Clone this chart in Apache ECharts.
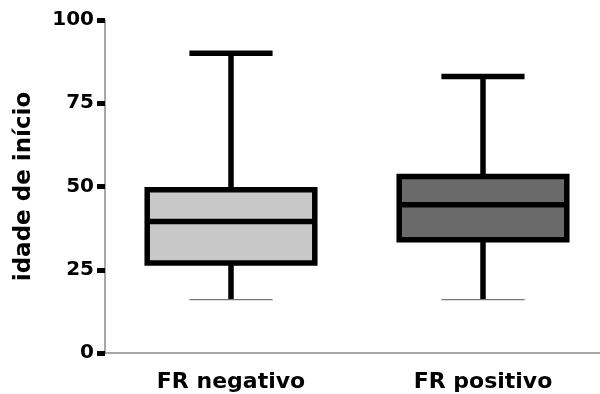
<!DOCTYPE html>
<html>
<head>
<meta charset="utf-8">
<script src="https://cdn.jsdelivr.net/npm/echarts@6/dist/echarts.min.js"></script>
<style>html,body{margin:0;padding:0;background:#fff}#c{width:600px;height:394px}</style>
</head>
<body>
<div id="c"></div>
<script>
var categories = ['FR negativo', 'FR positivo'];
var whiskerLow = [16, 16];
var quartile1 = [27, 34];
var medians = [39.5, 44.5];
var quartile3 = [49, 53];
var whiskerHigh = [90, 83];
var boxFills = ['#c8c8c8', '#6a6a6a'];
var yTicks = [0, 25, 50, 75, 100];
var yTitle = 'idade de início';

var data = categories.map(function (c, i) {
  return [i, whiskerLow[i], quartile1[i], medians[i], quartile3[i], whiskerHigh[i]];
});

var FONT = '"DejaVu Sans", sans-serif';

function renderItem(params, api) {
  var idx = api.value(0);
  var band = api.size([1, 0])[0];
  var bw = band * 0.665;
  var cw = band * 0.33;
  var pMin = api.coord([idx, api.value(1)]);
  var pQ1 = api.coord([idx, api.value(2)]);
  var pMed = api.coord([idx, api.value(3)]);
  var pQ3 = api.coord([idx, api.value(4)]);
  var pMax = api.coord([idx, api.value(5)]);
  var cx = pMed[0];
  var thick = { stroke: '#000', lineWidth: 5.5 };
  return {
    type: 'group',
    children: [
      { type: 'line', shape: { x1: cx, y1: pMax[1], x2: cx, y2: pQ3[1] }, style: thick },
      { type: 'line', shape: { x1: cx, y1: pQ1[1], x2: cx, y2: pMin[1] }, style: thick },
      { type: 'line', shape: { x1: cx - cw / 2, y1: pMax[1], x2: cx + cw / 2, y2: pMax[1] }, style: thick },
      { type: 'line', shape: { x1: cx - cw / 2, y1: pMin[1], x2: cx + cw / 2, y2: pMin[1] }, style: { stroke: '#777', lineWidth: 1.2 } },
      { type: 'rect', shape: { x: cx - bw / 2, y: pQ3[1], width: bw, height: pQ1[1] - pQ3[1] },
        style: { fill: boxFills[idx], stroke: '#000', lineWidth: 5.5 } },
      { type: 'line', shape: { x1: cx - bw / 2, y1: pMed[1], x2: cx + bw / 2, y2: pMed[1] }, style: thick }
    ]
  };
}

var chart = echarts.init(document.getElementById('c'), null, { renderer: 'canvas' });
chart.setOption({
  animation: false,
  backgroundColor: '#fff',
  grid: { left: 105, right: -9, top: 20, bottom: 41, containLabel: false, outerBoundsMode: 'none' },
  xAxis: {
    type: 'category',
    data: categories,
    boundaryGap: true,
    axisLine: { show: true, lineStyle: { color: '#8a8a8a', width: 1.5 } },
    axisTick: { show: false },
    axisLabel: { color: '#000', fontFamily: FONT, fontWeight: 'bold', fontSize: 22, margin: 18 },
    splitLine: { show: false }
  },
  yAxis: {
    type: 'value',
    min: yTicks[0],
    max: yTicks[yTicks.length - 1],
    interval: yTicks[1] - yTicks[0],
    name: yTitle,
    nameLocation: 'middle',
    nameRotate: 90,
    nameGap: 69,
    nameTextStyle: { color: '#000', fontFamily: FONT, fontWeight: 'bold', fontSize: 23 },
    axisLine: { show: true, lineStyle: { color: '#8a8a8a', width: 1.5 } },
    axisTick: { show: true, length: 8, lineStyle: { color: '#000', width: 5 } },
    axisLabel: { color: '#000', fontFamily: FONT, fontWeight: 'bold', fontSize: 20, margin: 11 },
    splitLine: { show: false }
  },
  series: [{
    type: 'custom',
    renderItem: renderItem,
    encode: { x: 0, y: [1, 2, 3, 4, 5] },
    data: data,
    clip: false
  }]
});
</script>
</body>
</html>
